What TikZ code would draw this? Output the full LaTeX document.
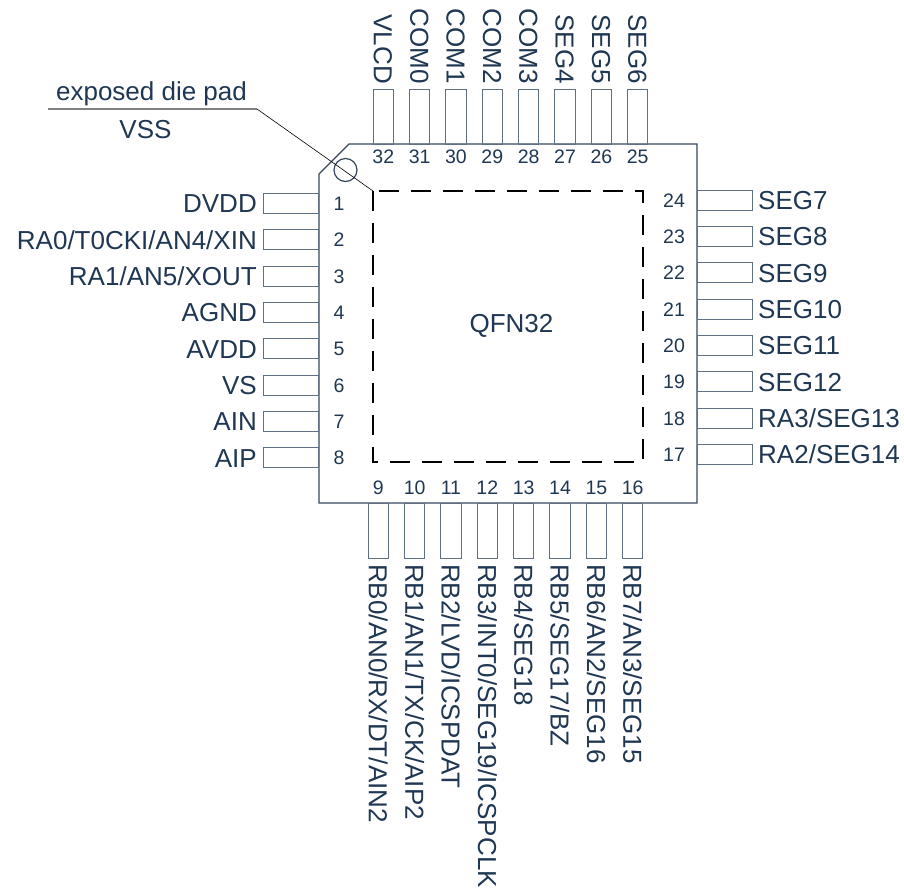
\documentclass[tikz,border=0pt]{standalone}
\usepackage{fontspec}
\setmainfont{Liberation Sans}
\definecolor{txtblue}{RGB}{31,55,82}
\definecolor{pingray}{RGB}{95,112,130}
\definecolor{bodyline}{RGB}{55,70,92}

\begin{document}
\begin{tikzpicture}[x=1pt,y=-1pt,
    pinv/.style={draw=pingray,line width=1pt,minimum width=20.5pt,minimum height=55pt,inner sep=0pt},
    pinh/.style={draw=pingray,line width=1pt,minimum width=55pt,minimum height=20pt,inner sep=0pt},
    lbl/.style={text=txtblue,font=\fontsize{26}{26}\selectfont,inner sep=0pt,text height=18.6pt,text depth=0pt},
    num/.style={text=txtblue,font=\fontsize{19.5}{19.5}\selectfont,inner sep=0pt,text height=14pt,text depth=0pt}]
  \useasboundingbox (0,0) rectangle (904,895);

  % package body and die pad
  \draw[bodyline,line width=1.2pt] (349,144) -- (697,144) -- (697,503) -- (319,503) -- (319,174) -- cycle;
  \draw[black,line width=1.2pt,dash pattern=on 20pt off 12pt] (373,191) rectangle (643,462);
  \draw[bodyline,line width=1.2pt] (345.5,170) circle (11.5);
  \node[lbl] (chip) at (511.5,323) {QFN32};

  % top pins 32..25
  \foreach \name [count=\i from 0] in {VLCD,COM0,COM1,COM2,COM3,SEG4,SEG5,SEG6}{
    \pgfmathtruncatemacro\n{32-\i}
    \node[pinv] (pin\n) at ({383.25+36.35*\i},116.5) {};
    \node[lbl,rotate=-90,anchor=east] (lbl\n) at ({383.25+36.35*\i},84) {\name};
    \node[num] (num\n) at ({383.25+36.35*\i},156.5) {\n};
  }
  % left pins 1..8
  \foreach \name [count=\n] in {DVDD,{RA0/T0CKI/AN4/XIN},{RA1/AN5/XOUT},AGND,AVDD,VS,AIN,AIP}{
    \node[pinh] (pin\n) at (291,{203.5+36.35*(\n-1)}) {};
    \node[lbl,anchor=east] (lbl\n) at (257,{203.5+36.35*(\n-1)}) {\name};
    \node[num] (num\n) at (339,{203.5+36.35*(\n-1)}) {\n};
  }
  % bottom pins 9..16
  \foreach \name [count=\i from 0] in {{RB0/AN0/RX/DT/AIN2},{RB1/AN1/TX/CK/AIP2},{RB2/LVD/ICSPDAT},{RB3/INT0/SEG19/ICSPCLK},{RB4/SEG18},{RB5/SEG17/BZ},{RB6/AN2/SEG16},{RB7/AN3/SEG15}}{
    \pgfmathtruncatemacro\n{9+\i}
    \node[pinv] (pin\n) at ({378.25+36.35*\i},531) {};
    \node[lbl,rotate=-90,anchor=west] (lbl\n) at ({378.25+36.35*\i},564) {\name};
    \node[num] (num\n) at ({378.25+36.35*\i},487) {\n};
  }
  % right pins 24..17
  \foreach \name [count=\i from 0] in {SEG7,SEG8,SEG9,SEG10,SEG11,SEG12,{RA3/SEG13},{RA2/SEG14}}{
    \pgfmathtruncatemacro\n{24-\i}
    \node[pinh] (pin\n) at (724.5,{200+36.35*\i}) {};
    \node[lbl,anchor=west] (lbl\n) at (758,{200+36.35*\i}) {\name};
    \node[num] (num\n) at (674,{200+36.35*\i}) {\n};
  }

  % exposed pad callout
  \coordinate (padstart) at (48,109);
  \coordinate (padend) at (257,109);
  \coordinate (dietl) at (373,191);
  \node[lbl,anchor=base] (padname) at (151.5,100) {exposed die pad};
  \node[lbl] (vss) at (145.5,129) {VSS};
  \draw[gray,line width=1.5pt] (padstart) -- (padend);
  \draw[black,line width=0.6pt] (padend) -- (dietl);
\end{tikzpicture}
\end{document}
